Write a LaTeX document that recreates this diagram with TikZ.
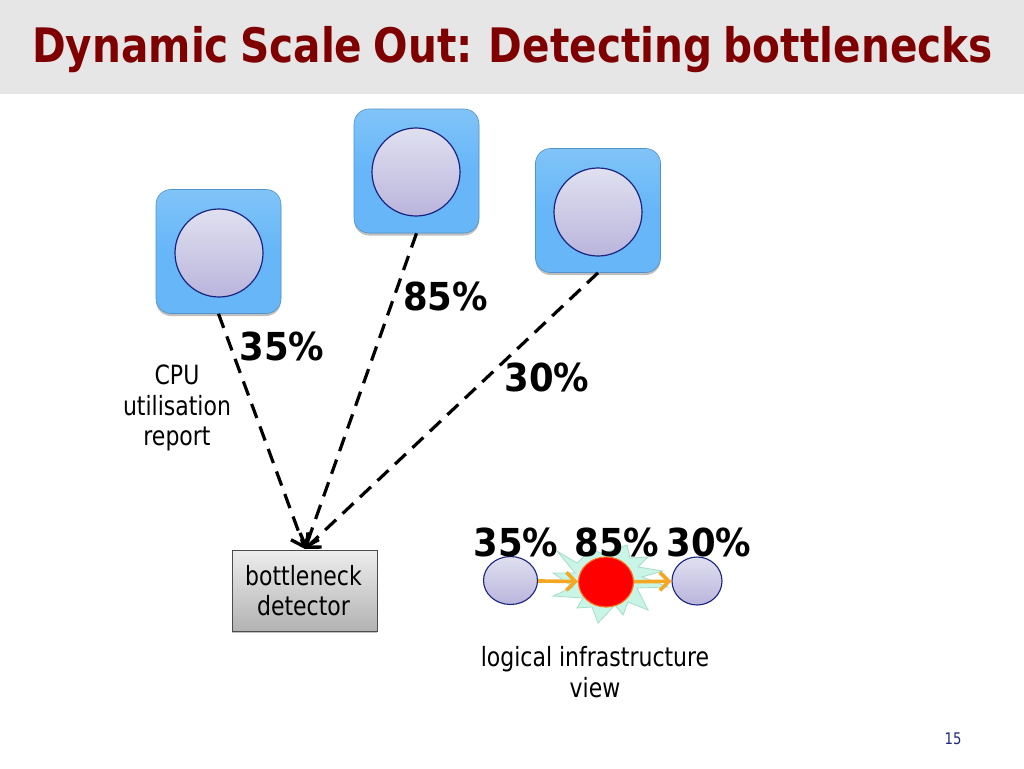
\documentclass[tikz,border=0pt]{standalone}
\usepackage{fontspec}
\setmainfont{DejaVu Sans}[FakeStretch=0.83]
\newfontfamily\titlefont{DejaVu Sans Bold}[FakeStretch=0.855,WordSpace=0.8]
\newfontfamily\pctfont{DejaVu Sans Bold}[FakeStretch=0.92]
\usetikzlibrary{arrows.meta,shadows,shapes.geometric,calc}
\definecolor{titlered}{HTML}{7F0000}
\definecolor{bandgrey}{HTML}{E6E6E6}
\definecolor{sqblue}{HTML}{66B6F8}
\definecolor{sqtop}{HTML}{80C4F8}
\definecolor{circtop}{HTML}{E0E0F0}
\definecolor{circbot}{HTML}{B9B5DC}
\definecolor{navyline}{HTML}{1A237E}
\definecolor{orangeline}{HTML}{F5A623}
\definecolor{starfill}{HTML}{C8F5E6}
\definecolor{starline}{HTML}{A8DCCC}
\definecolor{numblue}{HTML}{1F2A7A}
\tikzset{
  x=1pt,y=-1pt,
  sq/.style={draw=sqblue!80!black,line width=0.6pt,top color=sqtop,bottom color=sqblue,middle color=sqblue,rounded corners=15pt,minimum width=125pt,minimum height=124pt,inner sep=0pt,
    drop shadow={shadow xshift=0pt,shadow yshift=-2.5pt,opacity=0.25,fill=black}},
  bigcirc/.style={circle,draw=navyline,line width=1.2pt,top color=circtop,bottom color=circbot,minimum size=88pt,inner sep=0pt},
  smallc/.style={ellipse,draw=navyline,line width=1.1pt,top color=circtop,bottom color=circbot,inner sep=0pt},
  report/.style={dash pattern=on 15pt off 9pt,line width=3.2pt,black,-{Straight Barb[length=11pt,width=20pt,line width=3.4pt]}},
  pct/.style={font=\pctfont\fontsize{38.5}{38.5}\selectfont,inner sep=0pt,text=black},
  lbl/.style={font=\fontsize{26.5}{30.5}\selectfont,align=center,inner sep=0pt,text=black},
  flow/.style={orangeline,line width=3.6pt,-{Straight Barb[length=9pt,width=18pt,line width=3.6pt]}},
}
\begin{document}
\begin{tikzpicture}
\useasboundingbox (0,0) rectangle (1024,768);
\fill[white] (0,0) rectangle (1024,768);
\fill[bandgrey] (0,0) rectangle (1024,94);
\node[anchor=center,inner sep=0pt,text=titlered,font=\titlefont\fontsize{47.5}{50}\selectfont] (title) at (512.5,50) {Dynamic Scale Out: Detecting bottlenecks};

% servers
\node[sq] (s1) at (218.5,251.5) {};
\node[sq] (s2) at (416.5,171) {};
\node[sq] (s3) at (598,210.5) {};
\node[bigcirc] (c1) at (219,253) {};
\node[bigcirc] (c2) at (416,172) {};
\node[bigcirc] (c3) at (598,212) {};

% detector
\node[draw=black!70,line width=1pt,top color=black!7,bottom color=black!30,minimum width=145pt,minimum height=81pt,inner sep=0pt,
  drop shadow={shadow xshift=0pt,shadow yshift=-2pt,opacity=0.25,fill=black},lbl] (det) at (304.5,590.5) {\hspace*{-2pt}bottleneck\\\hspace*{-2pt}detector};

\coordinate (tip) at (305,549);
\draw[report] (s1.south) -- (tip);
\draw[report] (s2.south) -- (tip);
\draw[report] (s3.south) -- (tip);

\node[pct] (p1) at (282,346) {35\%};
\node[pct] (p2) at (445.5,296) {85\%};
\node[pct] (p3) at (547,377) {30\%};
\node[lbl] (cpu) at (177,408) {CPU\\utilisation\\report};

% logical view
\draw[starline,fill=starfill,line width=0.8pt,line join=miter,miter limit=10]
  (557,551)--(577,563)--(592,549)--(600,553)--(607,552)--(627,545)--(630,558)--(648,557)--(638,567)--(663,571)--(642,577)--(668,587)--(637,588)--(648,610)--(628,602)--(623,615)--(615,605)--(598,623)--(592,607)--(577,608)--(583,598)--(553,596)--(573,587)--(553,573)--(575,573)--cycle;
\node[smallc,minimum width=54pt,minimum height=48pt] (l1) at (510.5,580.5) {};
\node[smallc,draw=orangeline!70!red,top color=red,bottom color=red,minimum width=55pt,minimum height=50pt] (l2) at (606,582) {};
\node[smallc,minimum width=50pt,minimum height=48pt] (l3) at (697,581) {};
\draw[flow] (l1) -- (l2);
\draw[flow] (l2) -- (l3);
\node[pct] (q1) at (516,542) {35\%};
\node[pct] (q2) at (617,542) {85\%};
\node[pct] (q3) at (709,542) {30\%};
\node[lbl] (view) at (595,672) {logical infrastructure\\view};
\node[inner sep=0pt,text=numblue,font=\fontsize{16}{18}\selectfont] (num) at (953,739) {15};
\end{tikzpicture}
\end{document}
